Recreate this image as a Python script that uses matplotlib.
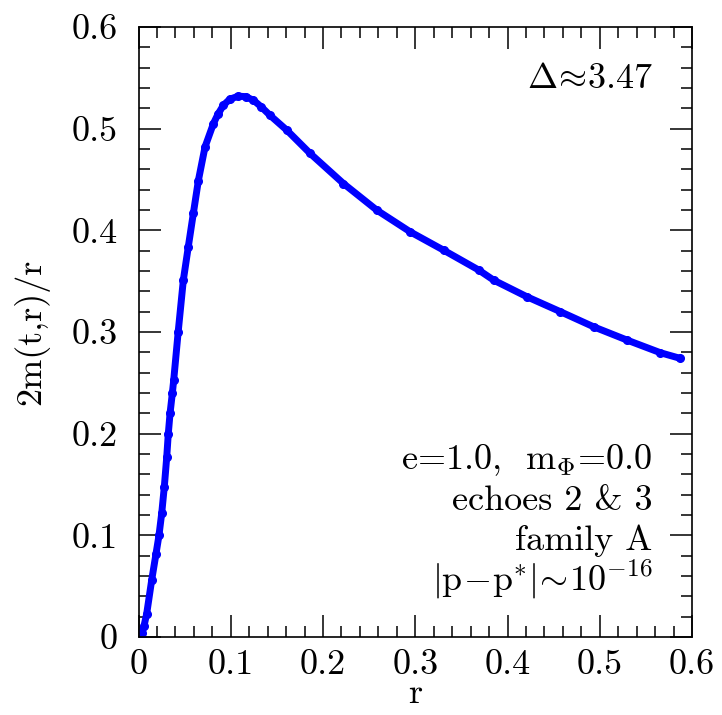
import numpy as np
import matplotlib
matplotlib.use('Agg')
import matplotlib.pyplot as plt
from matplotlib.ticker import MultipleLocator, FixedLocator, FixedFormatter

plt.rcParams['font.family'] = 'cmr10'
plt.rcParams['mathtext.fontset'] = 'cm'
plt.rcParams['mathtext.default'] = 'rm'
plt.rcParams['axes.formatter.use_mathtext'] = True

# values
r = [0.0015, 0.004, 0.006, 0.0089, 0.0143, 0.019, 0.0222, 0.0252, 0.028,
     0.0306, 0.0323, 0.0342, 0.0367, 0.0382, 0.043, 0.0486, 0.054, 0.0595,
     0.0649, 0.0721, 0.0812, 0.086, 0.092, 0.099, 0.1083, 0.116, 0.1246,
     0.133, 0.1427, 0.1608, 0.1861, 0.2222, 0.2584, 0.2946, 0.3307, 0.3687,
     0.385, 0.4212, 0.4573, 0.4934, 0.5297, 0.5658, 0.5875]
mass_ratio = [0.0, 0.004, 0.011, 0.023, 0.056, 0.082, 0.1, 0.122, 0.148,
              0.177, 0.2, 0.22, 0.24, 0.253, 0.3, 0.351, 0.384, 0.417,
              0.449, 0.482, 0.505, 0.514, 0.523, 0.529, 0.532, 0.5315, 0.528,
              0.5215, 0.513, 0.4985, 0.4756, 0.446, 0.4198, 0.3985, 0.3805, 0.361,
              0.351, 0.3346, 0.320, 0.3051, 0.292, 0.2796, 0.274]

tick_values = [0, 0.1, 0.2, 0.3, 0.4, 0.5, 0.6]
tick_labels = ['0', '0.1', '0.2', '0.3', '0.4', '0.5', '0.6']

fig = plt.figure(figsize=(7.22, 7.15), dpi=100)
ax = fig.add_axes([138.5 / 722, 78 / 715, 553.5 / 722, 610 / 715])

ax.plot(r, mass_ratio, '-o', color='#0000ff', lw=5, ms=5.5,
        solid_capstyle='round', solid_joinstyle='round')

ax.set_xlim(0, 0.6)
ax.set_ylim(0, 0.6)
for axis in (ax.xaxis, ax.yaxis):
    axis.set_major_locator(FixedLocator(tick_values))
    axis.set_major_formatter(FixedFormatter(tick_labels))
    axis.set_minor_locator(MultipleLocator(0.02))
ax.tick_params(which='both', direction='in', top=True, right=True, width=1.1,
               labelsize=26)
ax.tick_params(which='major', length=16)
ax.tick_params(which='minor', length=8)
ax.tick_params(axis='x', pad=9)
ax.tick_params(axis='y', pad=15)
for s in ax.spines.values():
    s.set_linewidth(1.2)

ax.set_xlabel('r', fontsize=26, labelpad=-2)
ax.set_ylabel('2m(t,r)/r', fontsize=26, labelpad=16)

ax.text(0.93, 0.9, r'$\Delta\!\approx\!3.47$', transform=ax.transAxes,
        ha='right', va='baseline', fontsize=26)
lines = [r'e=1.0,  m$_{\Phi}$=0.0', 'echoes 2 & 3', 'family A',
         r'$|p\!-\!p^{*}|\!\sim\!10^{-16}$']
ys = [0.2754, 0.2082, 0.1426, 0.077]
for txt, y in zip(lines, ys):
    ax.text(0.928, y, txt, transform=ax.transAxes, ha='right', va='baseline',
            fontsize=26)

fig.savefig('out.png', dpi=100)
